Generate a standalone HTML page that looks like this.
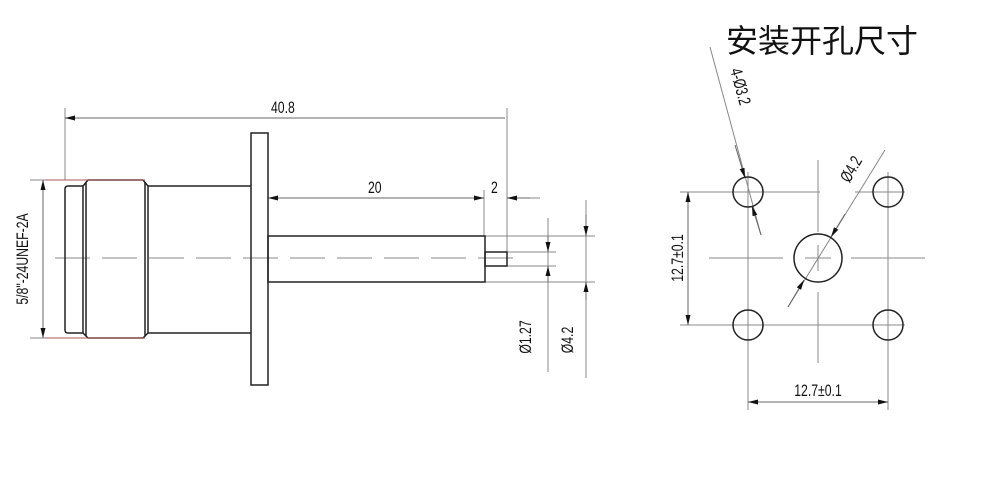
<!DOCTYPE html>
<html><head><meta charset="utf-8"><style>
html,body{margin:0;padding:0;background:#fff;width:1000px;height:485px;overflow:hidden}
svg{display:block}
text{font-family:"Liberation Sans Narrow","Liberation Sans",sans-serif;fill:#111}
</style></head><body>
<svg width="1000" height="485" viewBox="0 0 1000 485">
<defs>
<marker id="a" viewBox="0 0 10 6" refX="10" refY="3" markerWidth="10" markerHeight="6" orient="auto-start-reverse" markerUnits="userSpaceOnUse"><path d="M0,0.5L10,3L0,5.5z" fill="#111"/></marker>
</defs>
<g stroke="#888" stroke-width="1" fill="none">
<line x1="65" y1="108" x2="65" y2="180"/>
<line x1="507" y1="108" x2="507" y2="266"/>
<line x1="484" y1="190" x2="484" y2="236"/>
<line x1="30" y1="180" x2="85" y2="180"/>
<line x1="30" y1="338" x2="85" y2="338"/>
<line x1="485" y1="236" x2="595" y2="236"/>
<line x1="485" y1="282" x2="595" y2="282"/>
<line x1="507" y1="252" x2="556" y2="252"/>
<line x1="507" y1="266" x2="556" y2="266"/>
<line x1="507" y1="198" x2="540" y2="198"/>
<line x1="548" y1="218" x2="548" y2="372"/>
<line x1="586" y1="200" x2="586" y2="378"/>
<line x1="55" y1="258" x2="520" y2="258" stroke-dasharray="35,12"/>
</g>
<g stroke="#666" stroke-width="1" fill="none">
<line x1="65" y1="118" x2="505" y2="118" marker-start="url(#a)"/>
<line x1="268" y1="198" x2="484" y2="198" marker-start="url(#a)" marker-end="url(#a)"/>
<line x1="43" y1="180" x2="43" y2="338" marker-start="url(#a)" marker-end="url(#a)"/>
<line x1="548" y1="236" x2="548" y2="252" marker-end="url(#a)"/>
<line x1="548" y1="282" x2="548" y2="266" marker-end="url(#a)"/>
<line x1="586" y1="215" x2="586" y2="236" marker-end="url(#a)"/>
<line x1="586" y1="300" x2="586" y2="282" marker-end="url(#a)"/>
<line x1="530" y1="198" x2="507" y2="198" marker-end="url(#a)"/>
</g>
<g stroke="#222" stroke-width="1.5" fill="none">
<rect x="251" y="133" width="17" height="252"/>
<path d="M83,186 L68,186 Q65,186 65,189 L65,330 Q65,333 68,333 L83,333"/>
<path d="M88,180 L143,180 L148,186 L148,333 L143,338 L88,338 L83,333 L83,186 Z"/>
<line x1="86" y1="182" x2="86" y2="336"/>
<line x1="145" y1="182" x2="145" y2="336"/>
<path d="M148,186 L251,186 M148,333 L251,333"/>
<rect x="268" y="236" width="217" height="46"/>
<rect x="485" y="252" width="22" height="14"/>
</g>
<line x1="45" y1="180" x2="145" y2="180" stroke="#a55" stroke-width="1"/>
<line x1="45" y1="338" x2="145" y2="338" stroke="#a55" stroke-width="1"/>
<g font-size="17">
<text transform="translate(271,113) scale(0.72,1)">40.8</text>
<text transform="translate(368,193) scale(0.72,1)">20</text>
<text transform="translate(491,193) scale(0.72,1)">2</text>
<text transform="translate(28,259) rotate(-90) scale(0.72,1)" text-anchor="middle">5/8"-24UNEF-2A</text>
<text transform="translate(531,337) rotate(-90) scale(0.72,1)" text-anchor="middle">Ø1.27</text>
<text transform="translate(573,340) rotate(-90) scale(0.72,1)" text-anchor="middle">Ø4.2</text>
</g>

<text x="726" y="52" font-size="32" style="font-family:'Noto Sans CJK SC',sans-serif" fill="#222">安装开孔尺寸</text>
<g stroke="#888" stroke-width="1" fill="none">
<line x1="680" y1="192" x2="820" y2="192"/>
<line x1="855" y1="192" x2="905" y2="192"/>
<line x1="680" y1="325" x2="905" y2="325"/>
<line x1="709" y1="258" x2="783" y2="258"/>
<line x1="851" y1="258" x2="925" y2="258"/>
<line x1="805" y1="258" x2="831" y2="258"/>
<line x1="818" y1="160" x2="818" y2="232"/>
<line x1="818" y1="245" x2="818" y2="271"/>
<line x1="818" y1="292" x2="818" y2="363"/>
<line x1="748" y1="172" x2="748" y2="410"/>
<line x1="888" y1="172" x2="888" y2="410"/>
<line x1="710" y1="47" x2="761" y2="235"/>
<line x1="885" y1="150" x2="788" y2="307"/>
</g>
<g stroke="#666" stroke-width="1" fill="none">
<line x1="688" y1="192" x2="688" y2="325" marker-start="url(#a)" marker-end="url(#a)"/>
<line x1="748" y1="402" x2="888" y2="402" marker-start="url(#a)" marker-end="url(#a)"/>
<line x1="735" y1="145" x2="745" y2="178" marker-end="url(#a)"/>
<line x1="761" y1="235" x2="752" y2="206" marker-end="url(#a)"/>
<line x1="845" y1="214" x2="831" y2="237" marker-end="url(#a)"/>
<line x1="788" y1="307" x2="804" y2="280" marker-end="url(#a)"/>
</g>
<g stroke="#222" stroke-width="1.5" fill="none">
<circle cx="748" cy="192" r="15"/>
<circle cx="888" cy="192" r="15"/>
<circle cx="748" cy="325" r="15"/>
<circle cx="888" cy="325" r="15"/>
<circle cx="818" cy="258" r="24"/>
</g>
<g font-size="17">
<text transform="translate(683,258) rotate(-90) scale(0.72,1)" text-anchor="middle">12.7±0.1</text>
<text transform="translate(818,396) scale(0.72,1)" text-anchor="middle">12.7±0.1</text>
<text transform="translate(735,88) rotate(75) scale(0.72,1)" text-anchor="middle">4-Ø3.2</text>
<text transform="translate(856,172) rotate(-60) scale(0.72,1)" text-anchor="middle">Ø4.2</text>
</g>
</svg>
</body></html>
